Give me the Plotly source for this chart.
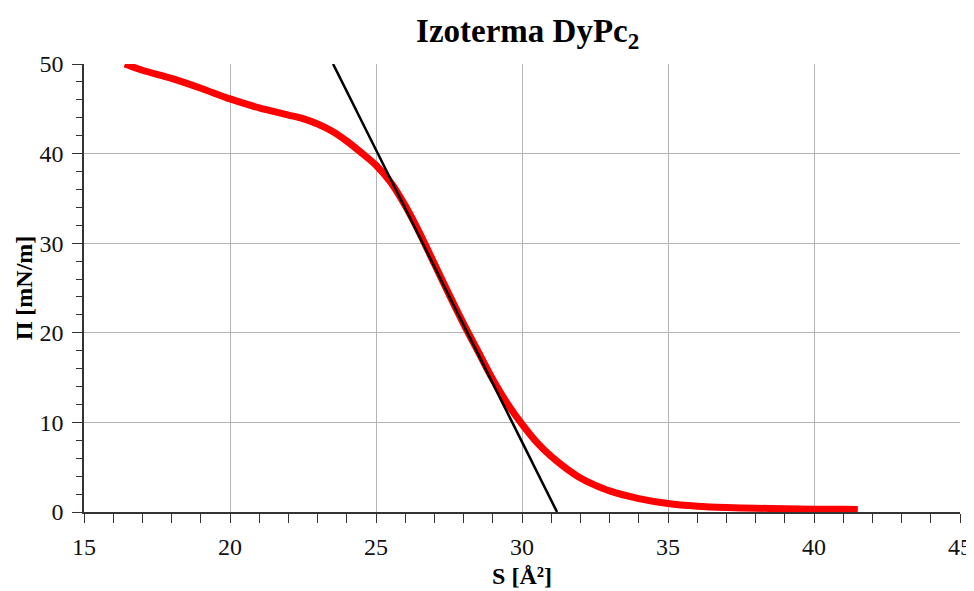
import plotly.graph_objects as go

# Isotherm data (area per molecule S [Å²], surface pressure Π [mN/m])
S_vals = [16.4, 17, 18, 19, 20, 21, 22, 22.5, 23, 23.5, 24, 24.5, 25, 25.5, 26, 26.5,
          27, 27.5, 28, 28.5, 29, 29.5, 30, 30.5, 31, 31.5, 32, 32.5, 33, 34,
          35, 36, 37, 38, 39, 40, 41, 41.5]
Pi_vals = [50.0, 49.3, 48.4, 47.3, 46.1, 45.1, 44.3, 43.9, 43.3, 42.5, 41.4, 40.1, 38.7,
           36.8, 34.2, 31.1, 27.7, 24.3, 21.0, 17.9, 14.8, 12.1, 9.8, 7.8, 6.2,
           4.9, 3.8, 3.0, 2.35, 1.5, 0.95, 0.65, 0.5, 0.42, 0.36, 0.32, 0.3, 0.28]

# Tangent (linear fit) line end points
tan_S = [23.53, 31.2]
tan_Pi = [50.0, 0.0]

x_ticks = [15, 20, 25, 30, 35, 40, 45]
y_ticks = [0, 10, 20, 30, 40, 50]

serif = "Liberation Serif, Times New Roman, serif"

fig = go.Figure()
fig.add_trace(go.Scatter(x=S_vals, y=Pi_vals, mode="lines",
                         line=dict(color="#ff0000", width=7, shape="spline", smoothing=0.8),
                         showlegend=False))
fig.add_trace(go.Scatter(x=tan_S, y=tan_Pi, mode="lines",
                         line=dict(color="#000000", width=2.5),
                         showlegend=False))

fig.update_layout(
    width=966, height=583,
    margin=dict(l=76, r=14, t=56, b=79, autoexpand=False),
    paper_bgcolor="white", plot_bgcolor="white",
    font=dict(family=serif, size=24, color="#111111"),
    title=dict(text="<b>Izoterma DyPc<sub>2</sub></b>", x=0.538, xanchor="center",
               y=0.962, yanchor="middle", font=dict(family=serif, size=33, color="#000000")),
    xaxis=dict(range=[15, 45], tickvals=x_ticks, ticktext=[str(v) for v in x_ticks],
               automargin=False, ticklabelstandoff=3,
               showgrid=True, gridcolor="#b4b4b4", gridwidth=1,
               showline=True, linecolor="#333333", linewidth=1.5,
               ticks="outside", ticklen=9, tickcolor="#333333",
               minor=dict(dtick=1, ticks="outside", ticklen=9, tickcolor="#333333", showgrid=False),
               zeroline=False,
               title=dict(text="<b>S [Å²]</b>", standoff=9, font=dict(family=serif, size=24, color="#000000"))),
    yaxis=dict(range=[0, 50], tickvals=y_ticks, ticktext=[str(v) for v in y_ticks],
               automargin=False, ticklabelstandoff=4,
               showgrid=True, gridcolor="#b4b4b4", gridwidth=1,
               showline=True, linecolor="#333333", linewidth=1.5,
               ticks="outside", ticklen=10, tickcolor="#333333",
               minor=dict(dtick=2, ticks="outside", ticklen=6, tickcolor="#333333", showgrid=False),
               zeroline=False,
               title=dict(text="<b>Π [mN/m]</b>", standoff=0, font=dict(family=serif, size=24, color="#000000"))),
)

fig.write_html("out.html")
